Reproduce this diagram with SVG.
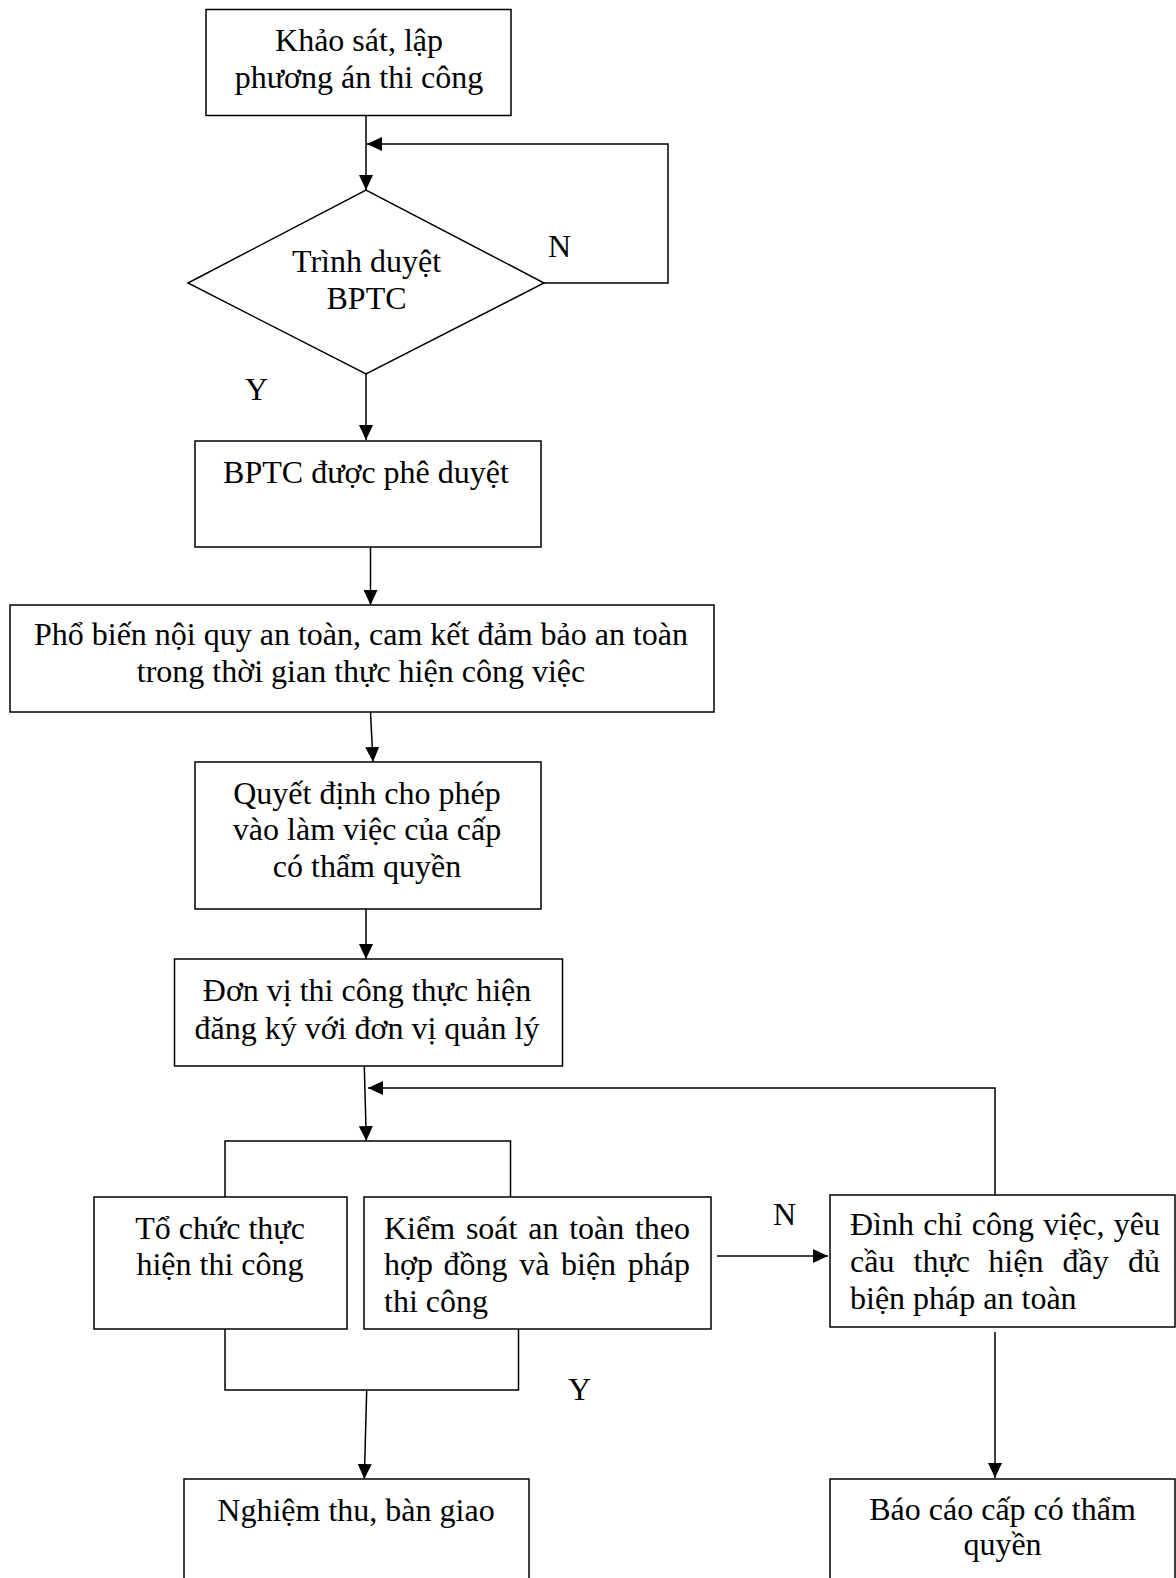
<svg xmlns="http://www.w3.org/2000/svg" width="1176" height="1578" viewBox="0 0 1176 1578">
<style>
.box{fill:#fff;stroke:#000;stroke-width:1.5}
.ln{fill:none;stroke:#000;stroke-width:1.5}
.t{font-family:"Liberation Serif","Times New Roman",serif;font-size:32px;fill:#000}
.c{text-anchor:middle}
.e{text-anchor:end}
</style>
<defs>
<marker id="arr" markerUnits="userSpaceOnUse" markerWidth="15" markerHeight="14" viewBox="0 0 15 14" refX="15" refY="7" orient="auto">
<path d="M0,0 L15,7 L0,14 z" fill="#000"/>
</marker>
</defs>
<rect width="1176" height="1578" fill="#fff"/>
<g id="connectors">
<line class="ln" x1="366" y1="116" x2="366" y2="190" marker-end="url(#arr)"/>
<polyline class="ln" points="544,283 668,283 668,144 367,144" marker-end="url(#arr)"/>
<line class="ln" x1="366" y1="374" x2="366" y2="440" marker-end="url(#arr)"/>
<line class="ln" x1="370.5" y1="547" x2="370.5" y2="605" marker-end="url(#arr)"/>
<line class="ln" x1="370.5" y1="712" x2="373" y2="762" marker-end="url(#arr)"/>
<line class="ln" x1="366" y1="909" x2="366" y2="959" marker-end="url(#arr)"/>
<line class="ln" x1="364.3" y1="1066" x2="366.3" y2="1141" marker-end="url(#arr)"/>
<polyline class="ln" points="995,1195 995,1088 368,1088" marker-end="url(#arr)"/>
<polyline class="ln" points="225,1197 225,1141 510.5,1141 510.5,1197"/>
<polyline class="ln" points="225,1329 225,1390 518.5,1390 518.5,1329"/>
<line class="ln" x1="366.7" y1="1390" x2="364.3" y2="1479" marker-end="url(#arr)"/>
<line class="ln" x1="717" y1="1256" x2="828" y2="1256" marker-end="url(#arr)"/>
<line class="ln" x1="995" y1="1332" x2="995" y2="1478" marker-end="url(#arr)"/>
<text class="t" x="548" y="257">N</text>
<text class="t" x="245" y="400">Y</text>
<text class="t" x="568" y="1400">Y</text>
<text class="t" x="773" y="1225">N</text>
</g>
<g id="n1">
<rect class="box" x="206" y="9.5" width="305" height="106"/>
<text class="t c" x="359" y="51">Khảo sát, lập</text>
<text class="t c" x="359" y="88">phương án thi công</text>
</g>
<g id="n2">
<polygon class="box" points="188,283 366,190 544,283 366,374"/>
<text class="t c" x="366.5" y="272">Trình duyệt</text>
<text class="t c" x="366.5" y="309">BPTC</text>
</g>
<g id="n3">
<rect class="box" x="195" y="441" width="346" height="106"/>
<text class="t c" x="366" y="483">BPTC được phê duyệt</text>
</g>
<g id="n4">
<rect class="box" x="10" y="605" width="704" height="107"/>
<text class="t c" x="361" y="645">Phổ biến nội quy an toàn, cam kết đảm bảo an toàn</text>
<text class="t c" x="361" y="682">trong thời gian thực hiện công việc</text>
</g>
<g id="n5">
<rect class="box" x="195" y="762" width="346" height="147"/>
<text class="t c" x="367" y="804">Quyết định cho phép</text>
<text class="t c" x="367" y="840">vào làm việc của cấp</text>
<text class="t c" x="367" y="877">có thẩm quyền</text>
</g>
<g id="n6">
<rect class="box" x="174.5" y="959" width="388" height="107"/>
<text class="t c" x="367" y="1001">Đơn vị thi công thực hiện</text>
<text class="t c" x="367" y="1039">đăng ký với đơn vị quản lý</text>
</g>
<g id="n7">
<rect class="box" x="94" y="1197" width="253" height="132"/>
<text class="t c" x="220" y="1239">Tổ chức thực</text>
<text class="t c" x="220" y="1275">hiện thi công</text>
</g>
<g id="n8">
<rect class="box" x="364" y="1197" width="347" height="132"/>
<text class="t" y="1239"><tspan x="384">Kiểm</tspan><tspan x="465.9">soát</tspan><tspan x="528.2">an</tspan><tspan x="569.2">toàn</tspan><tspan class="e" x="690">theo</tspan></text>
<text class="t" y="1275"><tspan x="384">hợp</tspan><tspan x="443.6">đồng</tspan><tspan x="519.2">và</tspan><tspan x="561">biện</tspan><tspan class="e" x="690">pháp</tspan></text>
<text class="t" x="384" y="1312">thi công</text>
</g>
<g id="n9">
<rect class="box" x="830" y="1195" width="345" height="132"/>
<text class="t" y="1235"><tspan x="850">Đình</tspan><tspan x="923.3">chỉ</tspan><tspan x="971.7">công</tspan><tspan x="1043.2">việc,</tspan><tspan class="e" x="1160">yêu</tspan></text>
<text class="t" y="1272"><tspan x="850">cầu</tspan><tspan x="913.5">thực</tspan><tspan x="988.3">hiện</tspan><tspan x="1062.5">đầy</tspan><tspan class="e" x="1160">đủ</tspan></text>
<text class="t" x="850" y="1309">biện pháp an toàn</text>
</g>
<g id="n10">
<rect class="box" x="184" y="1479" width="345" height="130"/>
<text class="t c" x="356" y="1521">Nghiệm thu, bàn giao</text>
</g>
<g id="n11">
<rect class="box" x="830" y="1479" width="345" height="130"/>
<text class="t c" x="1002.5" y="1520">Báo cáo cấp có thẩm</text>
<text class="t c" x="1002.5" y="1555">quyền</text>
</g>
</svg>
